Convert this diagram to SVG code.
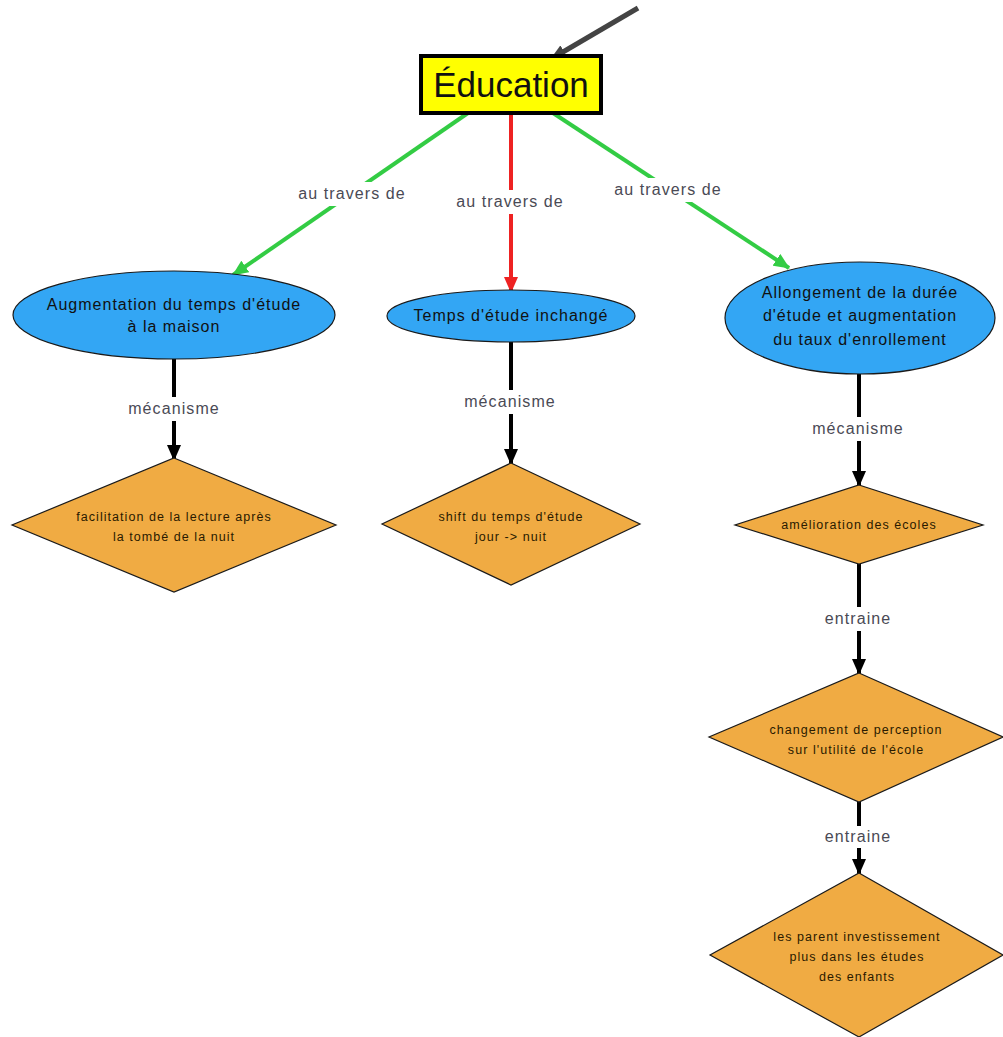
<svg xmlns="http://www.w3.org/2000/svg" width="1003" height="1037" viewBox="0 0 1003 1037">
<style>
text{font-family:"Liberation Sans",Arial,sans-serif;text-anchor:middle}
.ell{fill:#33a6f4;stroke:#1a1a1a;stroke-width:1.2}
.dia{fill:#f0ab43;stroke:#1a1a1a;stroke-width:1.2}
.et{font-size:16px;fill:#111;letter-spacing:1px}
.dt{font-size:12.5px;fill:#2a1a00;letter-spacing:1.05px}
.lbl{font-size:16px;fill:#4a4a55;letter-spacing:1.1px}
.lb{fill:#fff}
.blk{stroke:#000;stroke-width:4;fill:none}
</style>
<defs>
<marker id="ag" markerWidth="16" markerHeight="14" refX="15" refY="7" orient="auto" markerUnits="userSpaceOnUse"><path d="M0,0 L16,7 L0,14 z" fill="#33cc44"/></marker>
<marker id="ar" markerWidth="16" markerHeight="14" refX="15" refY="7" orient="auto" markerUnits="userSpaceOnUse"><path d="M0,0 L16,7 L0,14 z" fill="#ee2222"/></marker>
<marker id="ak" markerWidth="16" markerHeight="14" refX="15" refY="7" orient="auto" markerUnits="userSpaceOnUse"><path d="M0,0 L16,7 L0,14 z" fill="#444"/></marker>
<marker id="abk" markerWidth="16" markerHeight="14" refX="15" refY="7" orient="auto" markerUnits="userSpaceOnUse"><path d="M0,0 L16,7 L0,14 z" fill="#000"/></marker>
</defs>
<rect width="1003" height="1037" fill="#fff"/>
<g id="connectors">
<line x1="638" y1="8" x2="551" y2="59" stroke="#444" stroke-width="5" marker-end="url(#ak)"/>
<line x1="468" y1="113" x2="233" y2="275" stroke="#33cc44" stroke-width="4" marker-end="url(#ag)"/>
<line x1="511" y1="113" x2="511" y2="292" stroke="#ee2222" stroke-width="4" marker-end="url(#ar)"/>
<line x1="553" y1="113" x2="789" y2="268" stroke="#33cc44" stroke-width="4" marker-end="url(#ag)"/>
<line x1="174" y1="359" x2="174" y2="460" class="blk" marker-end="url(#abk)"/>
<line x1="511" y1="342" x2="511" y2="464" class="blk" marker-end="url(#abk)"/>
<line x1="859" y1="374" x2="859" y2="486" class="blk" marker-end="url(#abk)"/>
<line x1="859" y1="564" x2="859" y2="674" class="blk" marker-end="url(#abk)"/>
<line x1="859" y1="802" x2="859" y2="874" class="blk" marker-end="url(#abk)"/>
<rect class="lb" x="294" y="182" width="116" height="24"/>
<text class="lbl" x="352" y="199">au travers de</text>
<rect class="lb" x="452" y="190" width="116" height="24"/>
<text class="lbl" x="510" y="207">au travers de</text>
<rect class="lb" x="610" y="178" width="116" height="24"/>
<text class="lbl" x="668" y="195">au travers de</text>
<rect class="lb" x="118" y="397" width="112" height="24"/>
<text class="lbl" x="174" y="414">mécanisme</text>
<rect class="lb" x="454" y="390" width="112" height="24"/>
<text class="lbl" x="510" y="407">mécanisme</text>
<rect class="lb" x="802" y="417" width="112" height="24"/>
<text class="lbl" x="858" y="434">mécanisme</text>
<rect class="lb" x="818" y="607" width="80" height="24"/>
<text class="lbl" x="858" y="624">entraine</text>
<rect class="lb" x="818" y="826" width="80" height="22"/>
<text class="lbl" x="858" y="842">entraine</text>
</g>
<g id="education">
<rect x="421" y="56" width="180" height="57" fill="#ffff00" stroke="#000" stroke-width="4"/>
<text x="511" y="97" font-size="35" fill="#111">Éducation</text>
</g>
<g id="n-augmentation">
<ellipse class="ell" cx="174" cy="315" rx="161" ry="44"/>
<text class="et" x="174" y="310">Augmentation du temps d'étude</text>
<text class="et" x="174" y="332">à la maison</text>
</g>
<g id="n-inchange">
<ellipse class="ell" cx="511" cy="316" rx="124" ry="26"/>
<text class="et" x="511" y="321">Temps d'étude inchangé</text>
</g>
<g id="n-allongement">
<ellipse class="ell" cx="860" cy="318" rx="135" ry="56"/>
<text class="et" x="860" y="298">Allongement de la durée</text>
<text class="et" x="860" y="321">d'étude et augmentation</text>
<text class="et" x="860" y="345">du taux d'enrollement</text>
</g>
<g id="n-facilitation">
<polygon class="dia" points="174,458 336,525 174,592 12,525"/>
<text class="dt" x="174" y="521">facilitation de la lecture après</text>
<text class="dt" x="174" y="541">la tombé de la nuit</text>
</g>
<g id="n-shift">
<polygon class="dia" points="511,463 640,524 511,585 382,524"/>
<text class="dt" x="511" y="521">shift du temps d'étude</text>
<text class="dt" x="511" y="541">jour -&gt; nuit</text>
</g>
<g id="n-amelioration">
<polygon class="dia" points="859,485 983,525 859,564 735,525"/>
<text class="dt" x="859" y="529">amélioration des écoles</text>
</g>
<g id="n-changement">
<polygon class="dia" points="859,673 1003,737 859,802 709,737"/>
<text class="dt" x="856" y="734">changement de perception</text>
<text class="dt" x="856" y="754">sur l'utilité de l'école</text>
</g>
<g id="n-parents">
<polygon class="dia" points="859,873 1003,955 859,1037 710,955"/>
<text class="dt" x="857" y="941">les parent investissement</text>
<text class="dt" x="857" y="961">plus dans les études</text>
<text class="dt" x="857" y="981">des enfants</text>
</g>
</svg>
